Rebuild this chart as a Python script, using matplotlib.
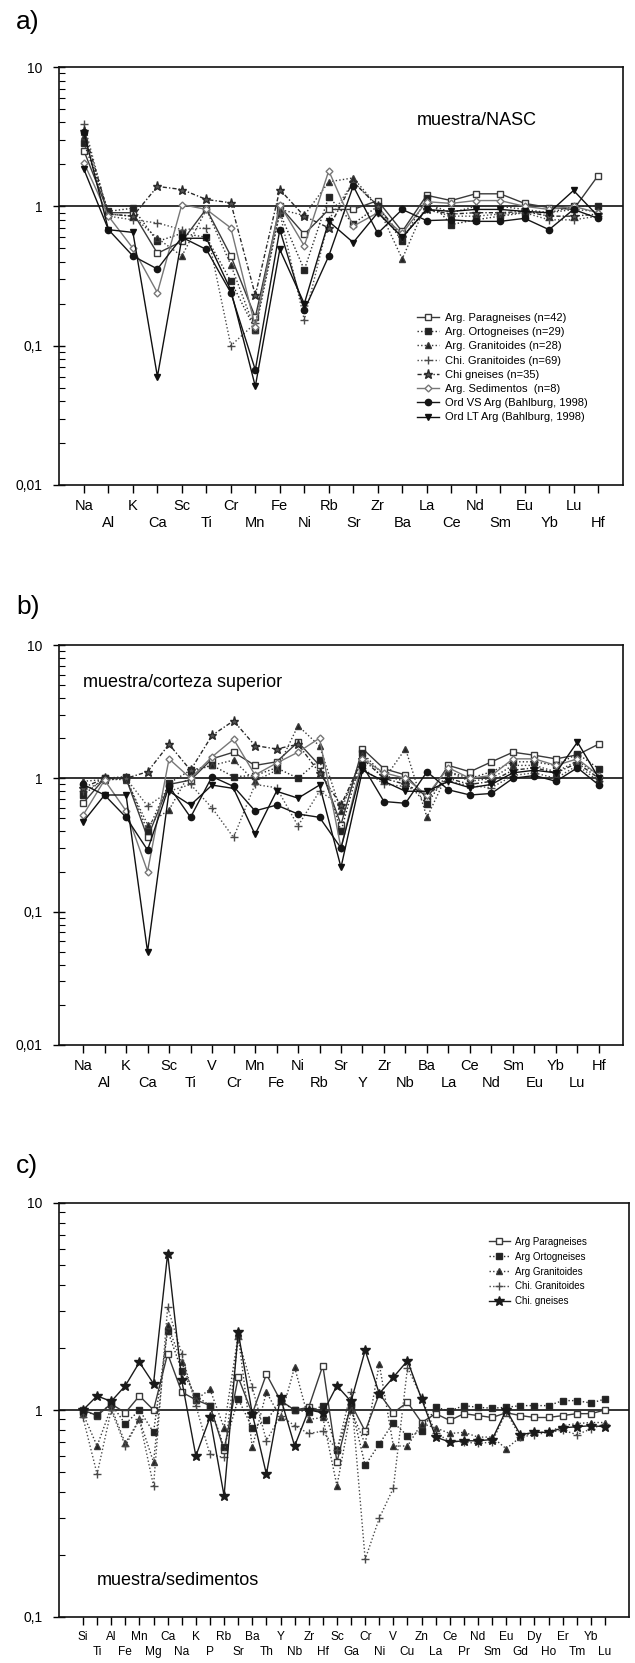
import matplotlib
matplotlib.use('Agg')
import matplotlib.pyplot as plt
from matplotlib.ticker import LogLocator, NullFormatter, FixedLocator

plt.rcParams['font.family'] = ['Liberation Sans', 'DejaVu Sans']

# ---- panel a: muestra/NASC ----
elems_a = ['Na', 'Al', 'K', 'Ca', 'Sc', 'Ti', 'Cr', 'Mn', 'Fe', 'Ni', 'Rb', 'Sr',
           'Zr', 'Ba', 'La', 'Ce', 'Nd', 'Sm', 'Eu', 'Yb', 'Lu', 'Hf']
a_parag = [2.5, 0.9, 0.9, 0.46, 0.56, 0.96, 0.44, 0.16, 1.0, 0.63, 0.95, 0.95, 1.1, 0.66, 1.2, 1.1, 1.23, 1.23, 1.05, 0.98, 0.95, 1.66]
a_orto = [2.85, 0.92, 0.97, 0.56, 0.64, 0.6, 0.29, 0.13, 0.9, 0.35, 1.17, 0.75, 1.0, 0.56, 1.15, 0.74, 0.8, 0.85, 0.9, 0.9, 1.0, 1.0]
a_argran = [3.2, 0.88, 0.85, 0.59, 0.44, 0.95, 0.38, 0.13, 0.95, 0.86, 1.5, 1.6, 1.0, 0.42, 1.05, 0.9, 1.0, 1.0, 0.95, 0.9, 0.95, 0.92]
a_chigran = [3.9, 0.85, 0.8, 0.76, 0.68, 0.7, 0.1, 0.145, 0.9, 0.153, 0.8, 1.5, 1.0, 0.6, 0.95, 0.85, 0.85, 0.88, 0.9, 0.8, 0.8, 0.85]
a_chigneis = [3.5, 0.88, 0.85, 1.39, 1.32, 1.12, 1.06, 0.23, 1.32, 0.85, 0.7, 1.5, 1.0, 0.6, 0.95, 0.88, 0.9, 0.9, 0.92, 0.85, 0.85, 0.88]
a_sedim = [2.05, 0.85, 0.5, 0.24, 1.03, 0.95, 0.7, 0.137, 1.03, 0.52, 1.8, 0.72, 0.9, 0.64, 1.08, 1.05, 1.1, 1.1, 1.0, 0.95, 1.0, 0.9]
a_ordvs = [3.4, 0.68, 0.44, 0.355, 0.6, 0.49, 0.24, 0.067, 0.68, 0.18, 0.44, 1.4, 0.64, 0.95, 0.79, 0.8, 0.78, 0.78, 0.82, 0.68, 0.95, 0.82]
a_ordlt = [1.84, 0.68, 0.65, 0.06, 0.59, 0.59, 0.25, 0.051, 0.49, 0.2, 0.78, 0.55, 0.9, 0.6, 0.95, 0.92, 0.95, 0.95, 0.92, 0.9, 1.3, 0.85]

# ---- panel b: muestra/corteza superior ----
elems_b = ['Na', 'Al', 'K', 'Ca', 'Sc', 'Ti', 'V', 'Cr', 'Mn', 'Fe', 'Ni', 'Rb', 'Sr',
           'Y', 'Zr', 'Nb', 'Ba', 'La', 'Ce', 'Nd', 'Sm', 'Eu', 'Yb', 'Lu', 'Hf']
b_parag = [0.65, 1.0, 1.0, 0.36, 0.9, 0.97, 1.4, 1.57, 1.25, 1.33, 1.87, 1.25, 0.45, 1.67, 1.18, 1.06, 0.71, 1.25, 1.12, 1.33, 1.57, 1.49, 1.4, 1.5, 1.81]
b_orto = [0.75, 1.0, 1.03, 0.4, 0.92, 1.15, 1.25, 1.03, 1.05, 1.2, 1.0, 1.37, 0.4, 1.55, 1.05, 0.95, 0.64, 1.12, 1.0, 1.12, 1.33, 1.33, 1.25, 1.53, 1.18]
b_argran = [0.95, 0.98, 0.98, 0.45, 0.58, 1.12, 1.25, 1.37, 0.95, 1.15, 2.48, 1.75, 0.57, 1.5, 0.98, 1.67, 0.51, 1.12, 0.95, 1.0, 1.25, 1.25, 1.12, 1.35, 1.05]
b_chigran = [0.8, 0.97, 1.0, 0.62, 0.8, 0.9, 0.6, 0.36, 0.9, 0.85, 0.44, 0.8, 0.63, 1.2, 0.9, 0.87, 0.75, 0.95, 0.88, 0.85, 1.05, 1.1, 1.0, 1.25, 0.95]
b_chigneis = [0.85, 1.0, 1.0, 1.12, 1.8, 1.15, 2.1, 2.7, 1.76, 1.66, 1.8, 1.1, 0.63, 1.4, 1.0, 0.9, 0.75, 1.0, 0.9, 0.95, 1.15, 1.2, 1.1, 1.3, 1.0]
b_sedim = [0.53, 0.97, 0.57, 0.2, 1.4, 1.0, 1.45, 1.97, 1.06, 1.3, 1.57, 2.0, 0.3, 1.4, 1.1, 1.0, 0.75, 1.2, 1.0, 1.05, 1.4, 1.4, 1.25, 1.4, 1.05]
b_ordvs = [0.9, 0.75, 0.51, 0.29, 0.87, 0.51, 1.03, 0.87, 0.57, 0.63, 0.54, 0.51, 0.3, 1.25, 0.67, 0.65, 1.12, 0.82, 0.75, 0.77, 1.0, 1.05, 0.95, 1.2, 0.89]
b_ordlt = [0.47, 0.75, 0.75, 0.05, 0.8, 0.63, 0.89, 0.84, 0.38, 0.8, 0.71, 0.89, 0.215, 1.15, 0.95, 0.8, 0.8, 0.95, 0.85, 0.9, 1.1, 1.15, 1.1, 1.87, 1.0]

# ---- panel c: muestra/sedimentos ----
elems_c = ['Si', 'Ti', 'Al', 'Fe', 'Mn', 'Mg', 'Ca', 'Na', 'K', 'P', 'Rb', 'Sr', 'Ba',
           'Th', 'Y', 'Nb', 'Zr', 'Hf', 'Sc', 'Ga', 'Cr', 'Ni', 'V', 'Cu', 'Zn', 'La',
           'Ce', 'Pr', 'Nd', 'Sm', 'Eu', 'Gd', 'Dy', 'Ho', 'Er', 'Tm', 'Yb', 'Lu']
c_parag = [1.0, 0.94, 1.07, 0.97, 1.17, 1.0, 1.87, 1.22, 1.12, 1.05, 0.64, 1.44, 0.96, 1.49, 1.11, 1.0, 1.03, 1.64, 0.56, 1.07, 0.79, 1.2, 0.97, 1.09, 0.87, 0.96, 0.89, 0.96, 0.94, 0.92, 0.97, 0.94, 0.92, 0.92, 0.94, 0.96, 0.96, 1.0]
c_orto = [0.98, 0.95, 1.07, 0.855, 1.0, 0.78, 2.42, 1.55, 1.17, 1.05, 0.66, 1.13, 0.82, 0.89, 1.1, 1.0, 0.98, 1.05, 0.64, 1.05, 0.54, 0.685, 0.87, 0.75, 0.79, 1.03, 0.99, 1.05, 1.03, 1.02, 1.03, 1.05, 1.05, 1.05, 1.11, 1.11, 1.08, 1.13]
c_argran = [0.96, 0.67, 1.03, 0.69, 0.9, 0.56, 2.56, 1.7, 1.12, 1.26, 0.82, 2.3, 0.66, 1.22, 0.92, 1.61, 0.9, 0.92, 0.43, 1.0, 0.685, 1.67, 0.67, 0.67, 0.86, 0.82, 0.77, 0.78, 0.74, 0.74, 0.65, 0.74, 0.78, 0.78, 0.84, 0.86, 0.87, 0.87]
c_chigran = [0.92, 0.49, 1.0, 0.67, 0.9, 0.43, 3.14, 1.87, 1.05, 0.61, 0.59, 2.2, 1.29, 0.71, 0.94, 0.84, 0.77, 0.79, 0.64, 1.22, 0.19, 0.30, 0.42, 1.6, 1.15, 0.77, 0.71, 0.7, 0.69, 0.7, 0.98, 0.74, 0.76, 0.78, 0.8, 0.76, 0.81, 0.86]
c_chigneis = [1.0, 1.17, 1.1, 1.31, 1.7, 1.34, 5.7, 1.39, 0.6, 0.92, 0.385, 2.38, 0.96, 0.49, 1.15, 0.67, 1.0, 0.97, 1.31, 1.1, 1.94, 1.2, 1.44, 1.73, 1.13, 0.74, 0.70, 0.71, 0.71, 0.72, 1.0, 0.76, 0.78, 0.78, 0.82, 0.83, 0.84, 0.83]

labels_ab = ['Arg. Paragneises (n=42)', 'Arg. Ortogneises (n=29)', 'Arg. Granitoides (n=28)',
             'Chi. Granitoides (n=69)', 'Chi gneises (n=35)', 'Arg. Sedimentos  (n=8)',
             'Ord VS Arg (Bahlburg, 1998)', 'Ord LT Arg (Bahlburg, 1998)']
labels_c = ['Arg Paragneises', 'Arg Ortogneises', 'Arg Granitoides', 'Chi. Granitoides', 'Chi. gneises']

DOT = (0, (1, 1.6))
DASHDOT = (0, (3, 1.5, 1, 1.5))

# style per series
st_parag = dict(color='#3a3a3a', ls='-', marker='s', mfc='white', ms=4.5)
st_orto = dict(color='#2a2a2a', ls=DOT, marker='s', mfc='#222222', ms=4.5)
st_argran = dict(color='#3a3a3a', ls=DOT, marker='^', mfc='#222222', ms=5)
st_chigran = dict(color='#4a4a4a', ls=DOT, marker='+', mfc='#333333', ms=6)
st_chigneis_ab = dict(color='#2a2a2a', ls=DASHDOT, marker='*', mfc='#555555', ms=6.5)
st_sedim = dict(color='#777777', ls='-', marker='D', mfc='white', ms=3.5)
st_ordvs = dict(color='#151515', ls='-', marker='o', mfc='#151515', ms=4.5)
st_ordlt = dict(color='#101010', ls='-', marker='v', mfc='#101010', ms=5)
st_chigneis_c = dict(color='#1a1a1a', ls='-', marker='*', mfc='#1a1a1a', ms=7)

W, H = 635, 1663
fig = plt.figure(figsize=(W / 100, H / 100), dpi=100)
fig.patch.set_facecolor('white')


def px_axes(x0, y0, x1, y1):
    return fig.add_axes([x0 / W, 1 - y1 / H, (x1 - x0) / W, (y1 - y0) / H])


def draw(ax, elems, series, styles, labels):
    x = list(range(len(elems)))
    for vals, s, lab in zip(series, styles, labels):
        ax.plot(x, vals, color=s['color'], linestyle=s['ls'], lw=1.0,
                marker=s['marker'], ms=s['ms'], mfc=s['mfc'], mec=s['color'],
                mew=1.0, label=lab, zorder=3)


def style_axes(ax, elems, ymin, xpad, xfs):
    n = len(elems)
    ax.set_yscale('log')
    ax.set_ylim(ymin, 10)
    ax.set_xlim(-xpad, n - 1 + xpad)
    ax.axhline(1, color='#111111', lw=1.2, zorder=2)
    ax.xaxis.set_major_locator(FixedLocator(range(n)))
    ax.set_xticklabels([e if i % 2 == 0 else '\n' + e for i, e in enumerate(elems)],
                       fontsize=xfs, linespacing=1.3)
    ax.tick_params(axis='x', direction='out', length=6, width=1, pad=4)
    ax.yaxis.set_minor_locator(LogLocator(base=10, subs=range(2, 10), numticks=20))
    ax.yaxis.set_minor_formatter(NullFormatter())
    ax.tick_params(axis='y', which='major', direction='inout', length=8, width=1,
                   pad=8, labelsize=10)
    ax.tick_params(axis='y', which='minor', direction='in', length=4, width=0.8)
    ticks = [t for t in [0.01, 0.1, 1, 10] if t >= ymin]
    ax.set_yticks(ticks)
    ax.set_yticklabels([str(t).replace('.', ',') if t < 1 else str(int(t)) for t in ticks])
    for sp in ax.spines.values():
        sp.set_linewidth(1.2)
        sp.set_color('#111111')


styles_ab = [st_parag, st_orto, st_argran, st_chigran, st_chigneis_ab, st_sedim, st_ordvs, st_ordlt]

# panel a
ax_a = px_axes(59, 67, 623, 485)
draw(ax_a, elems_a, [a_parag, a_orto, a_argran, a_chigran, a_chigneis, a_sedim, a_ordvs, a_ordlt],
     styles_ab, labels_ab)
style_axes(ax_a, elems_a, 0.01, 1.02, 10.5)
ax_a.text(0.74, 0.873, 'muestra/NASC', transform=ax_a.transAxes, fontsize=13,
          ha='center', va='center')
ax_a.legend(loc='upper left', bbox_to_anchor=(0.625, 0.425), frameon=False, fontsize=8,
            handlelength=2.0, handletextpad=0.5, labelspacing=0.38, borderpad=0)

# panel b
ax_b = px_axes(59, 645, 623, 1045)
draw(ax_b, elems_b, [b_parag, b_orto, b_argran, b_chigran, b_chigneis, b_sedim, b_ordvs, b_ordlt],
     styles_ab, labels_ab)
style_axes(ax_b, elems_b, 0.01, 1.12, 10.5)
ax_b.text(0.043, 0.9075, 'muestra/corteza superior', transform=ax_b.transAxes,
          fontsize=13, ha='left', va='center')

# panel c
ax_c = px_axes(59, 1203, 629, 1617)
draw(ax_c, elems_c, [c_parag, c_orto, c_argran, c_chigran, c_chigneis],
     [st_parag, st_orto, st_argran, st_chigran, st_chigneis_c], labels_c)
style_axes(ax_c, elems_c, 0.1, 1.7, 8.6)
ax_c.text(0.067, 0.089, 'muestra/sedimentos', transform=ax_c.transAxes,
          fontsize=13, ha='left', va='center')
ax_c.legend(loc='upper left', bbox_to_anchor=(0.745, 0.93), frameon=False, fontsize=7,
            handlelength=2.2, handletextpad=0.5, labelspacing=0.5, borderpad=0)

# panel letters
for lab, ypx in [('a)', 22), ('b)', 607), ('c)', 1166)]:
    fig.text(16 / W, 1 - ypx / H, lab, fontsize=19, ha='left', va='center')

fig.savefig('out.png', dpi=100, facecolor='white')
